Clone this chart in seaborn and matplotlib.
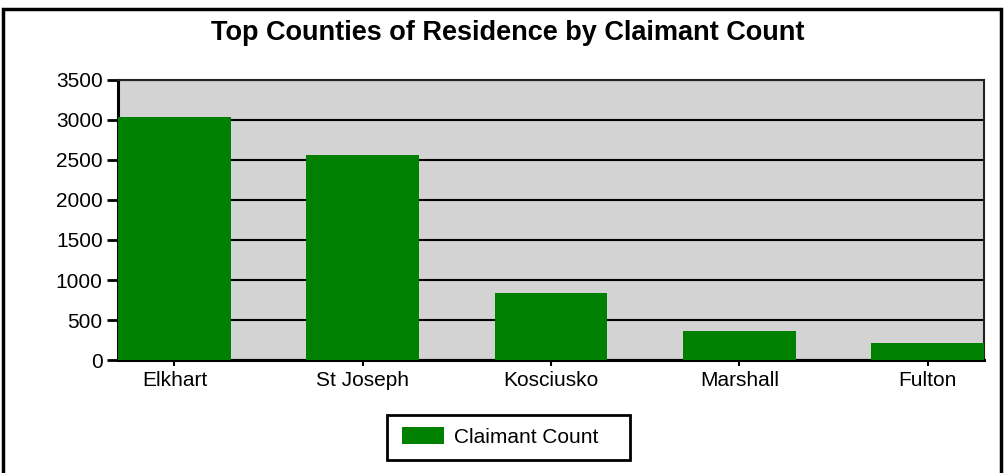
import pandas as pd
import matplotlib
matplotlib.use("Agg")
import matplotlib.pyplot as plt
import seaborn as sns
from matplotlib.patches import Rectangle

counties = ["Elkhart", "St Joseph", "Kosciusko", "Marshall", "Fulton"]
claimants = [3040, 2560, 833, 366, 208]

df = pd.DataFrame({"County": counties, "Claimant Count": claimants})

sns.set_style("white")
plt.rcParams["font.family"] = ["Liberation Sans", "DejaVu Sans"]
plt.rcParams["text.color"] = "black"
plt.rcParams["xtick.color"] = "black"
plt.rcParams["ytick.color"] = "black"

fig = plt.figure(figsize=(10.05, 4.73), dpi=100)
ax = fig.add_axes([118 / 1005, 1 - 360 / 473, 866 / 1005, 280 / 473])
ax.set_facecolor("#d3d3d3")

sns.barplot(data=df, x="County", y="Claimant Count", color="#008000",
            width=0.6, saturation=1, label="Claimant Count", ax=ax, zorder=3,
            edgecolor="#008000", linewidth=0)

ax.set_xlim(-0.3, 4.3)
ax.set_ylim(0, 3500)
ax.set_yticks(range(0, 3501, 500))
ax.yaxis.grid(True, color="black", linewidth=1.5, zorder=1)
ax.set_axisbelow(True)
ax.set_xlabel("")
ax.set_ylabel("")

for s in ["left", "bottom"]:
    ax.spines[s].set_linewidth(2.2)
    ax.spines[s].set_color("black")
for s in ["top", "right"]:
    ax.spines[s].set_linewidth(1.5)
    ax.spines[s].set_color("#222222")

ax.tick_params(axis="y", length=8, width=2, labelsize=15, pad=3, left=True,
               colors="black")
ax.tick_params(axis="x", length=4, width=1.5, labelsize=15, pad=4, bottom=True,
               colors="black")

fig.suptitle("Top Counties of Residence by Claimant Count", x=508 / 1005,
             y=1 - 33 / 473, va="center", fontsize=19.5, fontweight="bold",
             color="black")

handles, labels = ax.get_legend_handles_labels()
if ax.get_legend() is not None:
    ax.get_legend().remove()
leg = fig.legend(handles, labels, loc="center left",
                 bbox_to_anchor=(402 / 1005, 1 - 437 / 473),
                 fontsize=15, frameon=False, handlelength=2.0,
                 handleheight=0.9, borderpad=0, handletextpad=0.5, borderaxespad=0,
                 labelcolor="black")

# legend box (wider on the right, like the original)
fig.patches.append(Rectangle((387 / 1005, 1 - 460 / 473), 243 / 1005, 45 / 473,
                             transform=fig.transFigure, fill=False,
                             edgecolor="black", linewidth=2))

# outer border around the figure
fig.patches.append(Rectangle((3 / 1005, -0.02), 998 / 1005, 1.0, transform=fig.transFigure,
                             fill=False, edgecolor="black", linewidth=2.5))

fig.savefig("out.png", dpi=100)
